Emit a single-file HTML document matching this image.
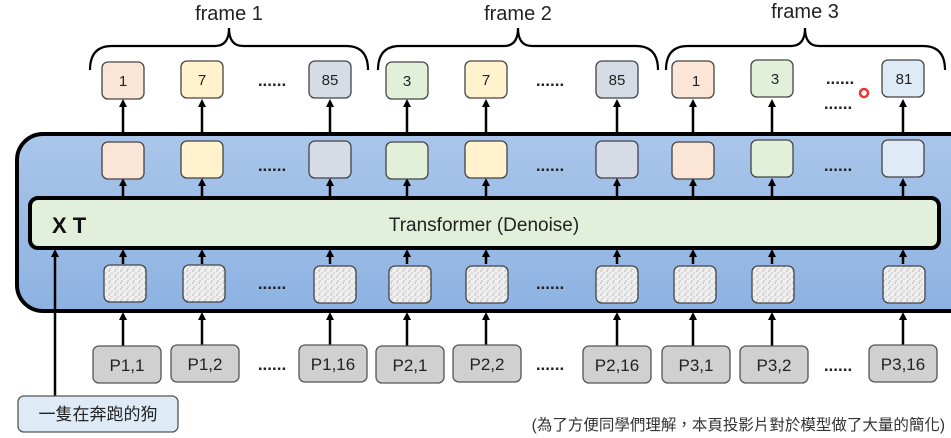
<!DOCTYPE html>
<html><head><meta charset="utf-8"><style>
html,body{margin:0;padding:0;background:#fff;}
svg{display:block;}
text{font-family:"Liberation Sans","Noto Sans CJK TC",sans-serif;}
</style></head><body>
<svg width="951" height="438" viewBox="0 0 951 438" xmlns="http://www.w3.org/2000/svg">
<defs>
<linearGradient id="bg" x1="0" y1="0" x2="0" y2="1"><stop offset="0" stop-color="#aac6ea"/><stop offset="1" stop-color="#8db2e2"/></linearGradient>
<pattern id="noise" width="6" height="6" patternUnits="userSpaceOnUse"><rect width="6" height="6" fill="#efefef"/><circle cx="1" cy="1" r="0.7" fill="#aaa"/><circle cx="4" cy="3" r="0.7" fill="#bbb"/><circle cx="2" cy="5" r="0.6" fill="#999"/></pattern>
<marker id="ah" markerWidth="8" markerHeight="8" refX="4" refY="4" orient="auto" markerUnits="userSpaceOnUse"><path d="M0,0 L8,4 L0,8 z" fill="#000"/></marker>
</defs>
<!-- braces -->
<g fill="none" stroke="#000" stroke-width="2.2">
<path d="M90,70 Q90,46 112,46 L215,46 Q229,46 229,28 Q229,46 243,46 L346,46 Q368,46 368,70"/>
<path d="M378,70 Q378,46 400,46 L504,46 Q518,46 518,28 Q518,46 532,46 L636,46 Q658,46 658,70"/>
<path d="M666,70 Q666,46 688,46 L791,46 Q805,46 805,28 Q805,46 819,46 L923,46 Q945,46 945,70"/>
</g>
<g font-size="20" fill="#222" text-anchor="middle">
<text x="229" y="20">frame 1</text><text x="518" y="20">frame 2</text><text x="805" y="18">frame 3</text>
</g>
<!-- container -->
<rect x="17" y="134" width="960" height="177" rx="26" fill="url(#bg)" stroke="#000" stroke-width="4"/>
<!-- transformer -->
<rect x="30" y="198" width="909" height="50" rx="8" fill="#e2efda" stroke="#000" stroke-width="4"/>
<text x="52" y="233" font-size="22" font-weight="bold" fill="#111">X T</text>
<text x="484" y="231" font-size="19" text-anchor="middle" fill="#222">Transformer (Denoise)</text>
<!-- arrows -->
<g stroke="#000" stroke-width="2.5" marker-end="url(#ah)">
<line x1="123" y1="134" x2="123" y2="103"/><line x1="202" y1="134" x2="202" y2="103"/><line x1="330" y1="134" x2="330" y2="103"/><line x1="407" y1="134" x2="407" y2="103"/><line x1="486" y1="134" x2="486" y2="103"/><line x1="617" y1="134" x2="617" y2="103"/><line x1="693" y1="134" x2="693" y2="103"/><line x1="772" y1="134" x2="772" y2="103"/><line x1="903" y1="134" x2="903" y2="103"/>
<line x1="123" y1="196" x2="123" y2="182"/><line x1="202" y1="196" x2="202" y2="182"/><line x1="330" y1="196" x2="330" y2="182"/><line x1="407" y1="196" x2="407" y2="182"/><line x1="486" y1="196" x2="486" y2="182"/><line x1="617" y1="196" x2="617" y2="182"/><line x1="693" y1="196" x2="693" y2="182"/><line x1="772" y1="196" x2="772" y2="182"/><line x1="903" y1="196" x2="903" y2="182"/>
<line x1="123" y1="264" x2="123" y2="253"/><line x1="202" y1="264" x2="202" y2="253"/><line x1="330" y1="264" x2="330" y2="253"/><line x1="407" y1="264" x2="407" y2="253"/><line x1="486" y1="264" x2="486" y2="253"/><line x1="617" y1="264" x2="617" y2="253"/><line x1="693" y1="264" x2="693" y2="253"/><line x1="772" y1="264" x2="772" y2="253"/><line x1="903" y1="264" x2="903" y2="253"/>
<line x1="123" y1="346" x2="123" y2="316"/><line x1="202" y1="346" x2="202" y2="316"/><line x1="330" y1="346" x2="330" y2="316"/><line x1="407" y1="346" x2="407" y2="316"/><line x1="486" y1="346" x2="486" y2="316"/><line x1="617" y1="346" x2="617" y2="316"/><line x1="693" y1="346" x2="693" y2="316"/><line x1="772" y1="346" x2="772" y2="316"/><line x1="903" y1="346" x2="903" y2="316"/>
<line x1="55" y1="396" x2="55" y2="253"/>
</g>
<!-- top boxes -->
<g stroke="#444" stroke-width="1.3">
<rect x="102" y="62" width="42" height="37" rx="6" fill="#fbe5d6"/><rect x="181" y="61" width="42" height="37" rx="6" fill="#fff2cc"/><rect x="309" y="61" width="42" height="37" rx="6" fill="#d6dce5"/><rect x="386" y="62" width="42" height="37" rx="6" fill="#e2f0d9"/><rect x="465" y="61" width="42" height="37" rx="6" fill="#fff2cc"/><rect x="596" y="61" width="42" height="37" rx="6" fill="#d6dce5"/><rect x="672" y="61" width="42" height="37" rx="6" fill="#fbe5d6"/><rect x="751" y="60" width="42" height="37" rx="6" fill="#e2f0d9"/><rect x="882" y="60" width="42" height="37" rx="6" fill="#deebf7"/>
<rect x="102" y="142" width="42" height="37" rx="6" fill="#fbe5d6"/><rect x="181" y="141" width="42" height="37" rx="6" fill="#fff2cc"/><rect x="309" y="141" width="42" height="37" rx="6" fill="#d6dce5"/><rect x="386" y="142" width="42" height="37" rx="6" fill="#e2f0d9"/><rect x="465" y="141" width="42" height="37" rx="6" fill="#fff2cc"/><rect x="596" y="141" width="42" height="37" rx="6" fill="#d6dce5"/><rect x="672" y="142" width="42" height="37" rx="6" fill="#fbe5d6"/><rect x="751" y="140" width="42" height="37" rx="6" fill="#e2f0d9"/><rect x="882" y="140" width="42" height="37" rx="6" fill="#deebf7"/>
<rect x="104" y="265" width="42" height="37" rx="6" fill="url(#noise)"/><rect x="183" y="265" width="42" height="37" rx="6" fill="url(#noise)"/><rect x="314" y="266" width="42" height="37" rx="6" fill="url(#noise)"/><rect x="389" y="266" width="42" height="37" rx="6" fill="url(#noise)"/><rect x="466" y="266" width="42" height="37" rx="6" fill="url(#noise)"/><rect x="596" y="266" width="42" height="37" rx="6" fill="url(#noise)"/><rect x="674" y="266" width="42" height="37" rx="6" fill="url(#noise)"/><rect x="752" y="266" width="42" height="37" rx="6" fill="url(#noise)"/><rect x="883" y="266" width="42" height="37" rx="6" fill="url(#noise)"/>
</g>
<g font-size="15" fill="#222" text-anchor="middle">
<text x="123" y="86">1</text><text x="202" y="85">7</text><text x="330" y="85">85</text><text x="407" y="86">3</text><text x="486" y="85">7</text><text x="617" y="85">85</text><text x="696" y="86">1</text><text x="775" y="84">3</text><text x="904" y="84">81</text>
</g>
<g font-size="17" fill="#222" text-anchor="middle" font-weight="bold">
<text x="272" y="86">......</text><text x="550" y="86">......</text><text x="840" y="84">......</text>
<text x="272" y="171">......</text><text x="550" y="171">......</text><text x="838" y="171">......</text>
<text x="272" y="289">......</text><text x="550" y="289">......</text><text x="838" y="109">......</text>
</g>
<circle cx="864" cy="93" r="4" fill="none" stroke="#e33" stroke-width="2.5"/>
<!-- P boxes -->
<g stroke="#555" stroke-width="1.3" fill="#d0d0d0">
<rect x="93" y="346" width="68" height="37" rx="6"/><rect x="171" y="345" width="68" height="37" rx="6"/><rect x="299" y="345" width="68" height="37" rx="6"/><rect x="376" y="346" width="68" height="37" rx="6"/><rect x="453" y="345" width="68" height="37" rx="6"/><rect x="583" y="346" width="68" height="37" rx="6"/><rect x="662" y="346" width="68" height="37" rx="6"/><rect x="740" y="346" width="68" height="37" rx="6"/><rect x="869" y="345" width="68" height="37" rx="6"/>
</g>
<g font-size="17" fill="#222" text-anchor="middle">
<text x="127" y="371">P1,1</text><text x="205" y="370">P1,2</text><text x="333" y="370">P1,16</text><text x="410" y="371">P2,1</text><text x="487" y="370">P2,2</text><text x="617" y="371">P2,16</text><text x="696" y="371">P3,1</text><text x="774" y="371">P3,2</text><text x="903" y="370">P3,16</text>
</g>
<g font-size="17" fill="#222" text-anchor="middle" font-weight="bold">
<text x="272" y="370">......</text><text x="550" y="370">......</text><text x="838" y="371">......</text>
</g>
<rect x="18" y="396" width="160" height="36" rx="6" fill="#deebf7" stroke="#555" stroke-width="1.3"/>
<text x="98" y="420" font-size="17" fill="#222" text-anchor="middle">一隻在奔跑的狗</text>
<text x="945" y="430" font-size="15.5" fill="#333" text-anchor="end">(為了方便同學們理解，本頁投影片對於模型做了大量的簡化)</text>
</svg>
</body></html>
